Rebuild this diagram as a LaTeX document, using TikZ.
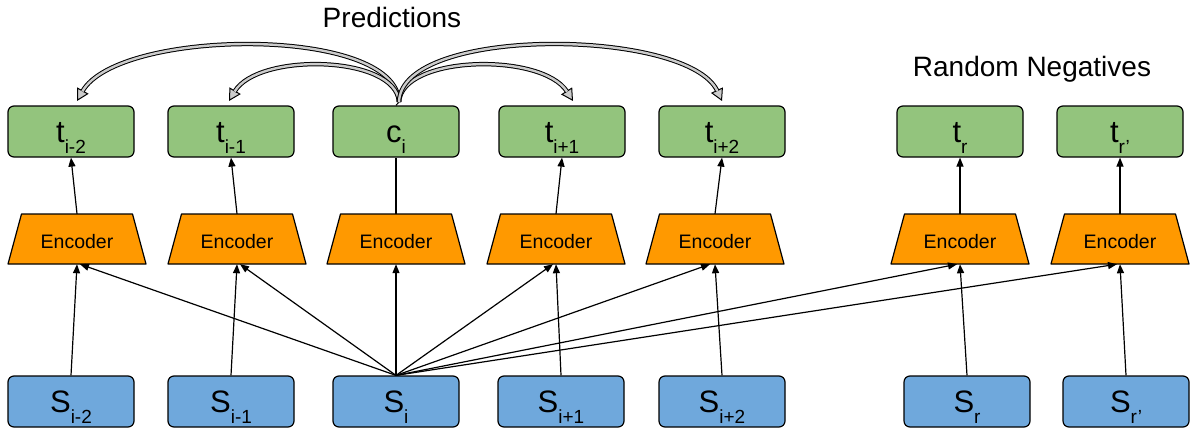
\documentclass[tikz,border=0pt]{standalone}
\usepackage{fontspec}
\setmainfont{Liberation Sans}
\usetikzlibrary{arrows.meta}
\definecolor{tgreen}{HTML}{93C47D}
\definecolor{eorange}{HTML}{FF9900}
\definecolor{sblue}{HTML}{6FA8DC}
\definecolor{agray}{HTML}{CCCCCC}
\newcommand{\lbl}[2]{#1\raisebox{-11pt}{\fontsize{19}{19}\selectfont #2}}
% encoder: trapezoid drawn first, then named text node on top
\newcommand{\encoder}[2]{%
  \filldraw[encshape] ({#2-69},264) -- ({#2-55.5},214) -- ({#2+55.5},214) -- ({#2+69},264) -- cycle;
  \node[enc] (#1) at (#2,239) {Encoder};}
\begin{document}
\begin{tikzpicture}[x=1pt,y=-1pt,
  box/.style={draw=black, line width=1.2pt, rounded corners=6pt, minimum width=126pt, minimum height=51pt, inner sep=0pt, font=\fontsize{31}{31}\selectfont, text height=22pt, text depth=0pt},
  tbox/.style={box, fill=tgreen},
  sbox/.style={box, fill=sblue},
  encshape/.style={draw=black, line width=1.2pt, fill=eorange, line join=round},
  enc/.style={rectangle, minimum width=138pt, minimum height=50pt, inner sep=0pt, font=\fontsize{19.5}{19.5}\selectfont, text height=18pt, text depth=0pt},
  conn/.style={line width=1.2pt, black},
  arr/.style={conn, -{Triangle[length=9pt,width=7pt]}},
  predtip/.style={line width=1pt, black, -{Triangle[fill=agray, length=12pt, width=13pt]}},
  predshaft/.style={line width=1pt, black, double=agray, double distance=2.4pt, shorten >=11pt},
  title/.style={anchor=base, font=\fontsize{28}{28}\selectfont, inner sep=0pt}
]
\useasboundingbox (0,0) rectangle (1190,428);

% titles
\node[title] (pred) at (392,28) {Predictions};
\node[title] (rneg) at (1032,77) {Random Negatives};

% target boxes
\node[tbox] (tA)  at (71,131.5)  {\lbl{t}{i-2}};
\node[tbox] (tB)  at (231,131.5) {\lbl{t}{i-1}};
\node[tbox] (ci)  at (396,131.5) {\lbl{c}{i}};
\node[tbox] (tC)  at (562,131.5) {\lbl{t}{i+1}};
\node[tbox] (tD)  at (722,131.5) {\lbl{t}{i+2}};
\node[tbox] (tR)  at (960,131.5) {\lbl{t}{r}};
\node[tbox] (tRp) at (1120,131.5) {\lbl{t}{r’}};

% encoders
\encoder{e1}{77}
\encoder{e2}{237}
\encoder{e3}{396}
\encoder{e4}{556}
\encoder{e5}{715}
\encoder{eR}{960}
\encoder{eRp}{1120}

% sentences
\node[sbox] (sA)  at (71,401.5)   {\lbl{S}{i-2}};
\node[sbox] (sB)  at (231,401.5)  {\lbl{S}{i-1}};
\node[sbox] (sI)  at (396,401.5)  {\lbl{S}{i}};
\node[sbox] (sC)  at (561,401.5)  {\lbl{S}{i+1}};
\node[sbox] (sD)  at (722,401.5)  {\lbl{S}{i+2}};
\node[sbox] (sR)  at (967,401.5)  {\lbl{S}{r}};
\node[sbox] (sRp) at (1126,401.5) {\lbl{S}{r’}};

% sentence -> encoder
\draw[arr] (sA.north) -- (e1.south);
\draw[arr] (sB.north) -- (e2.south);
\draw[arr] (sI.north) -- (e3.south);
\draw[arr] (sC.north) -- (e4.south);
\draw[arr] (sD.north) -- (e5.south);
\draw[arr] (sR.north) -- (eR.south);
\draw[arr] (sRp.north) -- (eRp.south);

% S_i fan-out
\draw[arr] (sI.north) -- ([xshift=3pt]e1.south);
\draw[arr] (sI.north) -- ([xshift=3pt]e2.south);
\draw[arr] (sI.north) -- ([xshift=-3pt]e4.south);
\draw[arr] (sI.north) -- ([xshift=-5pt]e5.south);
\draw[arr] (sI.north) -- ([xshift=-3pt]eR.south);
\draw[arr] (sI.north) -- ([xshift=-3pt]eRp.south);

% encoder -> target
\draw[arr] (e1.north) -- (tA.south);
\draw[arr] (e2.north) -- (tB.south);
\draw[conn] (e3.north) -- (ci.south);
\draw[arr] (e4.north) -- (tC.south);
\draw[arr] (e5.north) -- (tD.south);
\draw[arr] (eR.north) -- (tR.south);
\draw[arr] (eRp.north) -- (tRp.south);

% prediction arrows
\coordinate (p0) at (399,102);
\coordinate (hA) at (77,101);
\coordinate (hB) at (229,101);
\coordinate (hC) at (573,101);
\coordinate (hD) at (722,101);
\draw[conn, line width=1pt] (ci.north) -- (p0);
\draw[predtip]   (p0) .. controls (397,25) and (118,28) .. (hA);
\draw[predshaft] (p0) .. controls (397,25) and (118,28) .. (hA);
\draw[predtip]   (p0) .. controls (396,55) and (258,52) .. (hB);
\draw[predshaft] (p0) .. controls (396,55) and (258,52) .. (hB);
\draw[predtip]   (p0) .. controls (402,55) and (542,52) .. (hC);
\draw[predshaft] (p0) .. controls (402,55) and (542,52) .. (hC);
\draw[predtip]   (p0) .. controls (401,25) and (688,28) .. (hD);
\draw[predshaft] (p0) .. controls (401,25) and (688,28) .. (hD);
\end{tikzpicture}
\end{document}
